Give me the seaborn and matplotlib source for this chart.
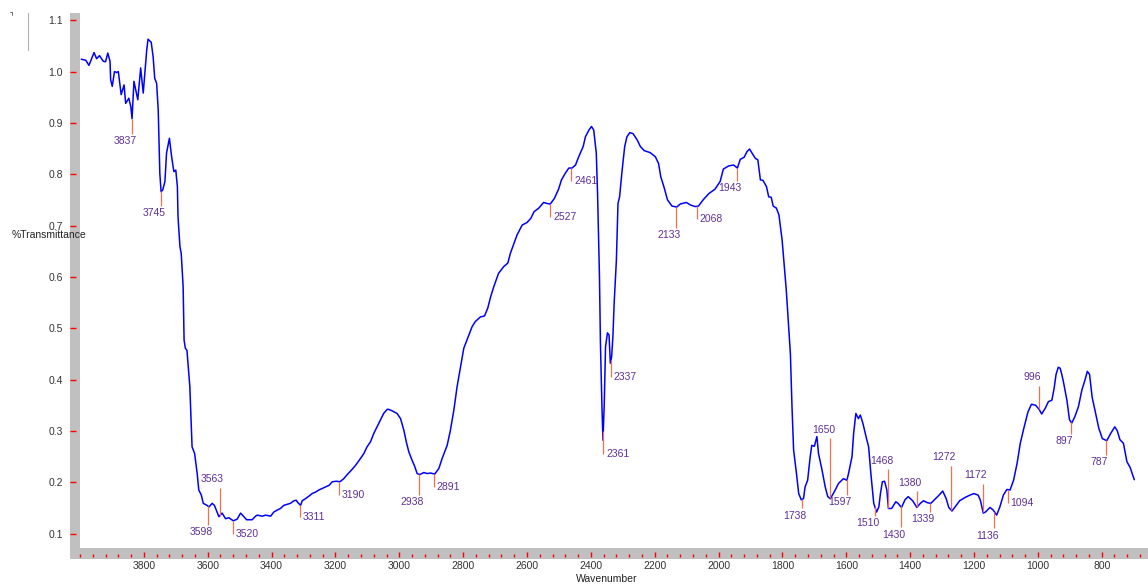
import numpy as np
import pandas as pd
import matplotlib
matplotlib.use('Agg')
import matplotlib.pyplot as plt
import seaborn as sns
from matplotlib.patches import Rectangle
from matplotlib.lines import Line2D
from matplotlib.ticker import FixedLocator, MultipleLocator, FormatStrFormatter

# spectrum (wavenumber, %T as fraction)
wavenumber = [
    3996, 3982, 3972, 3965, 3956, 3948, 3939, 3927, 3920, 3913, 3906, 3904, 3899, 3892, 3885, 3880,
    3871, 3862, 3857, 3847, 3841, 3837, 3831, 3819, 3810, 3802, 3791, 3787, 3777, 3771, 3766, 3760,
    3755, 3750, 3746, 3741, 3734, 3729, 3720, 3713, 3706, 3700, 3695, 3693, 3687, 3683, 3677, 3674,
    3670, 3665, 3656, 3649, 3641, 3633, 3628, 3620, 3614, 3602, 3596, 3586, 3579, 3565, 3555, 3544,
    3534, 3520, 3508, 3497, 3478, 3461, 3450, 3445, 3429, 3419, 3403, 3393, 3382, 3372, 3362, 3351,
    3341, 3330, 3323, 3317, 3309, 3304, 3294, 3283, 3273, 3262, 3252, 3241, 3231, 3220, 3210, 3197,
    3186, 3174, 3163, 3148, 3137, 3122, 3111, 3101, 3090, 3080, 3064, 3049, 3038, 3033, 3022, 3007,
    2996, 2986, 2977, 2970, 2960, 2953, 2944, 2936, 2923, 2913, 2902, 2889, 2876, 2866, 2850, 2840,
    2829, 2819, 2808, 2798, 2788, 2772, 2762, 2746, 2733, 2723, 2714, 2704, 2689, 2673, 2660, 2652,
    2641, 2631, 2615, 2600, 2588, 2578, 2563, 2548, 2537, 2527, 2514, 2501, 2492, 2480, 2469, 2459,
    2448, 2438, 2424, 2417, 2406, 2398, 2391, 2383, 2379, 2373, 2370, 2365, 2362, 2358, 2354, 2348,
    2343, 2339, 2335, 2331, 2327, 2320, 2315, 2310, 2302, 2294, 2287, 2278, 2268, 2255, 2245, 2233,
    2214, 2198, 2188, 2181, 2170, 2160, 2146, 2131, 2120, 2101, 2088, 2073, 2063, 2047, 2031, 2011,
    1995, 1985, 1969, 1953, 1941, 1932, 1920, 1911, 1903, 1895, 1885, 1877, 1869, 1861, 1850, 1843,
    1835, 1829, 1819, 1811, 1801, 1788, 1775, 1770, 1765, 1756, 1749, 1741, 1734, 1729, 1721, 1713,
    1708, 1700, 1692, 1687, 1676, 1666, 1658, 1650, 1638, 1624, 1609, 1598, 1593, 1582, 1577, 1570,
    1562, 1556, 1548, 1537, 1530, 1523, 1514, 1505, 1498, 1493, 1487, 1480, 1473, 1468, 1458, 1445,
    1438, 1427, 1416, 1406, 1392, 1379, 1368, 1358, 1345, 1335, 1324, 1314, 1305, 1298, 1287, 1279,
    1269, 1258, 1245, 1229, 1213, 1200, 1187, 1180, 1171, 1164, 1150, 1140, 1129, 1119, 1108, 1097,
    1087, 1076, 1065, 1055, 1044, 1031, 1020, 1007, 996, 988, 977, 967, 956, 949, 943, 936,
    930, 925, 920, 909, 901, 894, 884, 873, 862, 852, 845, 838, 830, 819, 809, 798,
    784, 772, 759, 751, 743, 732, 721, 711, 698,
]
transmittance = [
    1.024, 1.022, 1.012, 1.023, 1.037, 1.025, 1.031, 1.020, 1.019, 1.036, 1.020, 0.984, 0.971, 1.000, 0.998, 1.000,
    0.955, 0.974, 0.938, 0.948, 0.932, 0.908, 0.981, 0.945, 1.007, 0.958, 1.042, 1.063, 1.057, 1.029, 0.987, 0.977,
    0.925, 0.802, 0.766, 0.769, 0.786, 0.841, 0.870, 0.834, 0.805, 0.808, 0.776, 0.717, 0.659, 0.646, 0.581, 0.477,
    0.461, 0.457, 0.386, 0.269, 0.256, 0.217, 0.185, 0.175, 0.159, 0.155, 0.152, 0.159, 0.155, 0.133, 0.140, 0.129,
    0.131, 0.125, 0.128, 0.140, 0.127, 0.127, 0.134, 0.136, 0.134, 0.136, 0.134, 0.142, 0.146, 0.149, 0.155, 0.157,
    0.159, 0.164, 0.165, 0.160, 0.155, 0.164, 0.168, 0.173, 0.178, 0.181, 0.185, 0.188, 0.191, 0.194, 0.201, 0.202,
    0.201, 0.207, 0.215, 0.225, 0.233, 0.246, 0.256, 0.269, 0.279, 0.295, 0.315, 0.334, 0.342, 0.342, 0.339, 0.334,
    0.324, 0.302, 0.276, 0.259, 0.243, 0.233, 0.217, 0.215, 0.219, 0.217, 0.218, 0.216, 0.227, 0.246, 0.272, 0.301,
    0.341, 0.386, 0.425, 0.461, 0.477, 0.503, 0.513, 0.522, 0.524, 0.539, 0.561, 0.581, 0.607, 0.620, 0.627, 0.646,
    0.665, 0.682, 0.701, 0.706, 0.714, 0.727, 0.734, 0.745, 0.743, 0.742, 0.753, 0.771, 0.789, 0.802, 0.812, 0.812,
    0.818, 0.834, 0.854, 0.873, 0.886, 0.893, 0.886, 0.841, 0.763, 0.600, 0.471, 0.341, 0.282, 0.354, 0.464, 0.491,
    0.487, 0.432, 0.444, 0.483, 0.549, 0.633, 0.743, 0.756, 0.808, 0.854, 0.873, 0.881, 0.879, 0.867, 0.854, 0.846,
    0.842, 0.834, 0.821, 0.795, 0.773, 0.750, 0.738, 0.736, 0.742, 0.745, 0.740, 0.737, 0.738, 0.751, 0.762, 0.771,
    0.786, 0.810, 0.816, 0.818, 0.812, 0.829, 0.833, 0.844, 0.849, 0.841, 0.831, 0.828, 0.789, 0.788, 0.776, 0.756,
    0.755, 0.738, 0.734, 0.721, 0.672, 0.575, 0.450, 0.347, 0.263, 0.217, 0.178, 0.166, 0.168, 0.191, 0.204, 0.250,
    0.272, 0.270, 0.289, 0.256, 0.224, 0.191, 0.172, 0.168, 0.181, 0.198, 0.207, 0.204, 0.217, 0.250, 0.295, 0.334,
    0.324, 0.331, 0.315, 0.286, 0.269, 0.217, 0.159, 0.142, 0.152, 0.178, 0.201, 0.202, 0.185, 0.149, 0.149, 0.162,
    0.159, 0.151, 0.166, 0.172, 0.164, 0.151, 0.159, 0.164, 0.160, 0.159, 0.166, 0.172, 0.178, 0.183, 0.168, 0.151,
    0.144, 0.153, 0.164, 0.170, 0.175, 0.178, 0.175, 0.165, 0.140, 0.142, 0.151, 0.146, 0.136, 0.152, 0.175, 0.186,
    0.185, 0.204, 0.237, 0.276, 0.305, 0.337, 0.352, 0.350, 0.342, 0.333, 0.344, 0.357, 0.360, 0.383, 0.410, 0.424,
    0.422, 0.410, 0.396, 0.360, 0.322, 0.315, 0.328, 0.347, 0.380, 0.400, 0.416, 0.410, 0.366, 0.334, 0.305, 0.285,
    0.281, 0.295, 0.308, 0.300, 0.283, 0.276, 0.240, 0.229, 0.205,
]

# labelled peaks
peak_wn = [3837, 3745, 3598, 3563, 3520, 3311, 3190, 2938, 2891, 2527, 2461, 2361, 2337, 2133, 2068, 1943,
           1738, 1650, 1597, 1510, 1468, 1430, 1380, 1339, 1272, 1172, 1136, 1094, 996, 897, 787]
# where each marker line ends and where its label sits (b = below, a = above, r = right)
peak_line_end = [0.879, 0.738, 0.117, 0.189, 0.099, 0.132, 0.176, 0.175, 0.191, 0.717, 0.786, 0.256, 0.406,
                 0.695, 0.712, 0.786, 0.149, 0.286, 0.175, 0.134, 0.225, 0.112, 0.183, 0.142, 0.232, 0.197,
                 0.110, 0.160, 0.388, 0.295, 0.253]
peak_side = ['b', 'b', 'b', 'a', 'r', 'r', 'r', 'b', 'r', 'r', 'r', 'r', 'r', 'b', 'r', 'b',
             'b', 'a', 'b', 'b', 'a', 'b', 'a', 'b', 'a', 'a', 'b', 'r', 'a', 'b', 'b']

df = pd.DataFrame({'Wavenumber': wavenumber, 'T': transmittance})

sns.set_style('white')
plt.rcParams['font.family'] = ['Liberation Sans', 'DejaVu Sans']

W, H = 1148, 585
fig = plt.figure(figsize=(W / 100, H / 100), dpi=100)
ax = fig.add_axes([80 / W, (H - 548) / H, (W - 80) / W, (548 - 13) / H])
ax.set_zorder(2)

sns.lineplot(data=df, x='Wavenumber', y='T', sort=False, estimator=None,
             color='#0000ff', linewidth=1.1, ax=ax)

ax.set_xlim(4000, 655)
ax.set_ylim(0.072, 1.114)

for s in ax.spines.values():
    s.set_visible(False)
ax.spines['left'].set_position(('outward', 7.5))
ax.spines['bottom'].set_position(('outward', 6.5))

ax.xaxis.set_major_locator(FixedLocator(list(range(3800, 700, -200))))
ax.xaxis.set_minor_locator(MultipleLocator(40))
ax.yaxis.set_major_locator(FixedLocator([round(0.1 * i, 1) for i in range(1, 12)]))
ax.yaxis.set_major_formatter(FormatStrFormatter('%.1f'))

ax.tick_params(axis='y', which='major', direction='in', length=4.5, width=1.0, color='#ff0000',
               pad=4.8, labelsize=7.5, labelcolor='#333333', left=True)
ax.tick_params(axis='x', which='major', direction='in', length=3.8, width=1.0, color='#ff0000',
               pad=3.0, labelsize=7.5, labelcolor='#333333', bottom=True)
ax.tick_params(axis='x', which='minor', direction='in', length=2.4, width=1.0, color='#ff0000',
               bottom=True)
ax.set_xlabel('')
ax.set_ylabel('')

# gray frame bands
band = '#c0c0c0'
fig.add_artist(Rectangle((70 / W, (H - 559) / H), 10 / W, (559 - 13) / H,
                         transform=fig.transFigure, color=band, zorder=1, lw=0))
fig.add_artist(Rectangle((70 / W, (H - 559) / H), (W - 70) / W, 11 / H,
                         transform=fig.transFigure, color=band, zorder=1, lw=0))

# peak markers and labels
wn_asc = np.array(wavenumber[::-1])
t_asc = np.array(transmittance[::-1])
line_col = '#f0704f'
lab_col = '#5f2f96'
for wn, end, side in zip(peak_wn, peak_line_end, peak_side):
    start = np.interp(wn, wn_asc, t_asc)
    ax.plot([wn, wn], [start, end], color=line_col, lw=0.9, solid_capstyle='butt', zorder=3)
    if side == 'b':
        ax.annotate(str(wn), (wn, end), xytext=(-5, -1.5), textcoords='offset points',
                    ha='center', va='top', fontsize=7.5, color=lab_col)
    elif side == 'a':
        ax.annotate(str(wn), (wn, end), xytext=(-5, 2.5), textcoords='offset points',
                    ha='center', va='bottom', fontsize=7.5, color=lab_col)
    else:
        ax.annotate(str(wn), (wn, end), xytext=(2, 0), textcoords='offset points',
                    ha='left', va='center', fontsize=7.5, color=lab_col)

fig.text(12 / W, 1 - 235 / H, '%Transmittance', ha='left', va='center',
         fontsize=7.5, color='#222222', zorder=5)
fig.text(607 / W, 1 - 579 / H, 'Wavenumber', ha='center', va='center',
         fontsize=7.5, color='#222222')

# small marks in the top-left corner
fig.add_artist(Line2D([27.5 / W, 27.5 / W], [1 - 13 / H, 1 - 50 / H], color='#b0b0b0', lw=0.8))
fig.add_artist(Line2D([9.5 / W, 12 / W, 12 / W], [1 - 11.5 / H, 1 - 11.5 / H, 1 - 14.5 / H],
                      color='#555555', lw=0.6))

fig.savefig('out.png', dpi=100)
